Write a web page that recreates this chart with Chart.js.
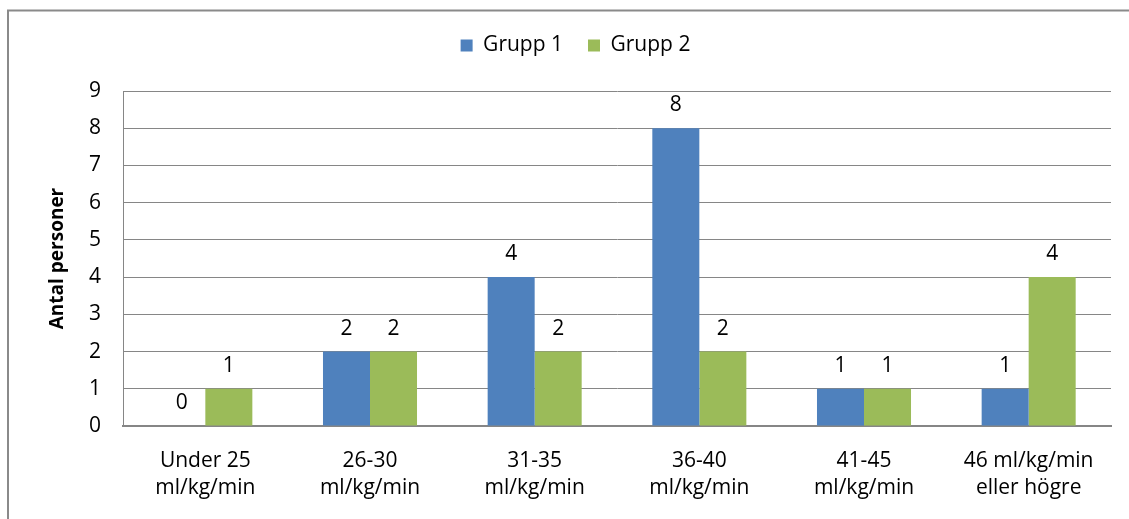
<!DOCTYPE html>
<html>
<head>
<meta charset="utf-8">
<script src="https://cdn.jsdelivr.net/npm/chart.js@4.4.1/dist/chart.umd.min.js"></script>
<style>
html,body{margin:0;padding:0;background:#fff;}
#wrap{position:relative;width:1129px;height:519px;}
</style>
</head>
<body>
<div id="wrap"><canvas id="c" width="1129" height="519"></canvas></div>
<script>
const categories = [
  ["Under 25", "ml/kg/min"],
  ["26-30", "ml/kg/min"],
  ["31-35", "ml/kg/min"],
  ["36-40", "ml/kg/min"],
  ["41-45", "ml/kg/min"],
  ["46 ml/kg/min", "eller högre"]
];
const grupp1 = [0, 2, 4, 8, 1, 1];
const grupp2 = [1, 2, 2, 2, 1, 4];
const yTicks = [0, 1, 2, 3, 4, 5, 6, 7, 8, 9];
const seriesNames = ["Grupp 1", "Grupp 2"];
const yTitle = "Antal personer";

const FONT = "'Open Sans', 'Liberation Sans', sans-serif";
const GRID = '#868686';

const framePlugin = {
  id: 'frame',
  beforeDraw(chart) {
    const ctx = chart.ctx;
    ctx.save();
    ctx.strokeStyle = '#8a8a8a';
    ctx.lineWidth = 2;
    ctx.beginPath();
    ctx.moveTo(8, 519);
    ctx.lineTo(8, 10.5);
    ctx.lineTo(1129, 10.5);
    ctx.stroke();
    ctx.restore();
  }
};

const labelPlugin = {
  id: 'valueLabels',
  afterDatasetsDraw(chart) {
    const ctx = chart.ctx;
    ctx.save();
    ctx.font = '21px ' + FONT;
    ctx.fillStyle = '#000';
    ctx.textAlign = 'center';
    ctx.textBaseline = 'middle';
    chart.data.datasets.forEach((ds, i) => {
      const meta = chart.getDatasetMeta(i);
      meta.data.forEach((el, j) => {
        ctx.fillText(String(ds.data[j]), el.x, el.y - 23);
      });
    });
    ctx.restore();
  }
};

const legendFix = {
  id: 'legendFix',
  beforeInit(chart) {
    const lg = chart.legend;
    if (lg) {
      const orig = lg.fit;
      lg.fit = function () { orig.call(this); this.height = 81; };
    }
  }
};

new Chart(document.getElementById('c'), {
  type: 'bar',
  data: {
    labels: categories,
    datasets: [
      { label: seriesNames[0], data: grupp1, backgroundColor: '#4F81BD', categoryPercentage: 0.571, barPercentage: 1 },
      { label: seriesNames[1], data: grupp2, backgroundColor: '#9BBB59', categoryPercentage: 0.571, barPercentage: 1 }
    ]
  },
  options: {
    responsive: false,
    animation: false,
    events: [],
    layout: { padding: { left: 40, right: 18, top: 10, bottom: 0 } },
    plugins: {
      legend: {
        position: 'top',
        labels: {
          boxWidth: 12, boxHeight: 12, padding: 25,
          color: '#000',
          font: { family: FONT, size: 21 }
        }
      },
      tooltip: { enabled: false }
    },
    scales: {
      x: {
        grid: { display: false, drawTicks: false },
        border: { display: true, color: GRID, width: 2 },
        ticks: { color: '#000', padding: 21, font: { family: FONT, size: 21, lineHeight: 1.3 }, maxRotation: 0, autoSkip: false },
        afterFit(s) { s.height = 93; }
      },
      y: {
        min: 0, max: 9,
        afterBuildTicks(s) { s.ticks = yTicks.map(v => ({ value: v })); },
        grid: { color: GRID, drawTicks: false, lineWidth: 1 },
        border: { display: true, color: GRID, width: 1 },
        ticks: { color: '#000', padding: 22, font: { family: FONT, size: 21 } },
        title: { display: true, text: yTitle, color: '#000', font: { family: FONT, size: 19, weight: 'bold' }, padding: { top: 6, bottom: 0 } },
        afterFit(s) { s.width = 83; }
      }
    }
  },
  plugins: [framePlugin, labelPlugin, legendFix]
});
</script>
</body>
</html>
